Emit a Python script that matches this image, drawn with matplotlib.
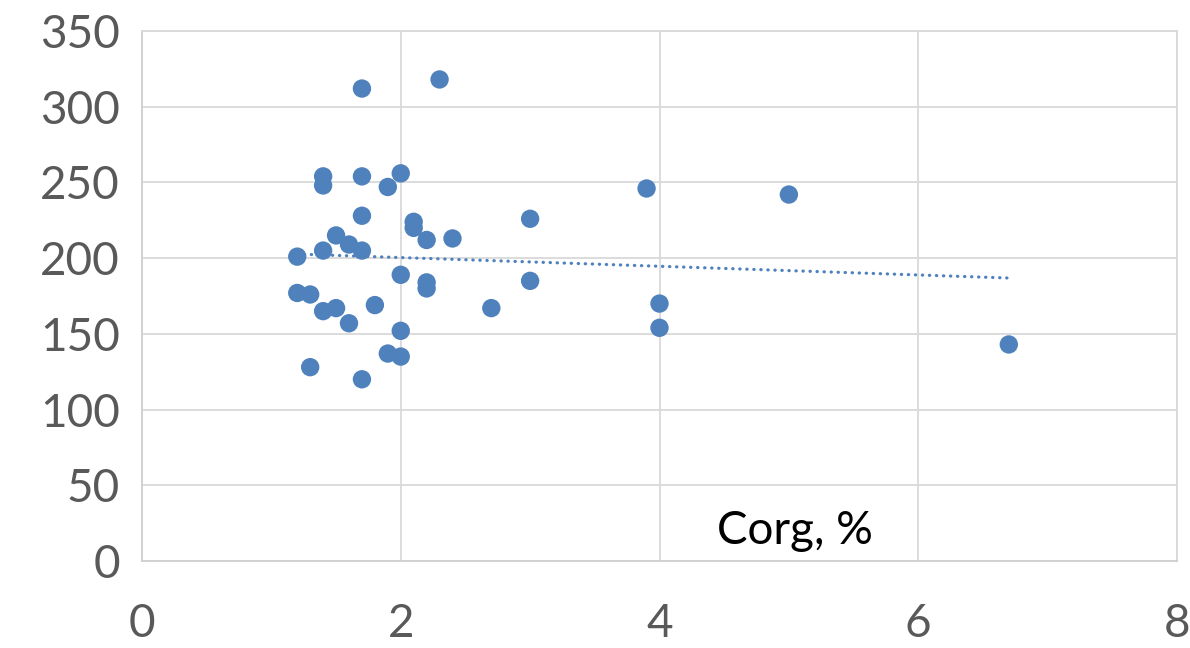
import numpy as np
import matplotlib
matplotlib.use("Agg")
import matplotlib.pyplot as plt

# Corg, % vs value
corg = [1.7, 2.3, 1.4, 1.4, 1.7, 2.0, 1.9, 1.7, 2.1, 2.1, 2.2, 2.4, 1.5, 1.6,
        1.7, 1.4, 1.2, 2.0, 2.2, 2.2, 1.2, 1.3, 1.5, 1.4, 1.8, 2.7, 1.6, 2.0,
        1.9, 2.0, 1.3, 1.7, 3.0, 3.0, 3.9, 4.0, 4.0, 5.0, 6.7]
vals = [312, 318, 254, 248, 254, 256, 247, 228, 224, 220, 212, 213, 215, 209,
        205, 205, 201, 189, 184, 180, 177, 176, 167, 165, 169, 167, 157, 152,
        137, 135, 128, 120, 226, 185, 246, 170, 154, 242, 143]

xticks = [0, 2, 4, 6, 8]
yticks = [0, 50, 100, 150, 200, 250, 300, 350]

blue = "#4f81bd"
grid = "#d9d9d9"
tick_col = "#595959"

plt.rcParams['font.family'] = ['Lato', 'DejaVu Sans']

fig = plt.figure(figsize=(11.9, 6.48), dpi=100)
ax = fig.add_axes([142/1190, 1 - 561/648, (1177-142)/1190, (561-31)/648])

ax.scatter(corg, vals, s=175, color=blue, edgecolors='none', zorder=3)

# linear trendline
k, b = np.polyfit(corg, vals, 1)
xs = np.array([min(corg), max(corg)])
ax.plot(xs, k*xs + b, color=blue, linewidth=2.3,
        linestyle=(0, (0.1, 2.1)), dash_capstyle='round', zorder=2)

ax.set_xlim(0, 8)
ax.set_ylim(0, 350)
ax.set_xticks(xticks)
ax.set_yticks(yticks)
ax.grid(True, color=grid, linewidth=1.3, zorder=0)
ax.set_axisbelow(True)
for s in ax.spines.values():
    s.set_color(grid)
    s.set_linewidth(1.3)
ax.spines['left'].set_color("#cfcfcf")
ax.spines['bottom'].set_color("#cfcfcf")
ax.tick_params(axis='both', length=0, labelsize=33, labelcolor=tick_col)
ax.tick_params(axis='x', pad=30)
ax.tick_params(axis='y', pad=16)

ax.text(5.05, 20, "Corg, %", fontsize=33, color='black', ha='center', va='center')

fig.savefig("out.png", dpi=100)
